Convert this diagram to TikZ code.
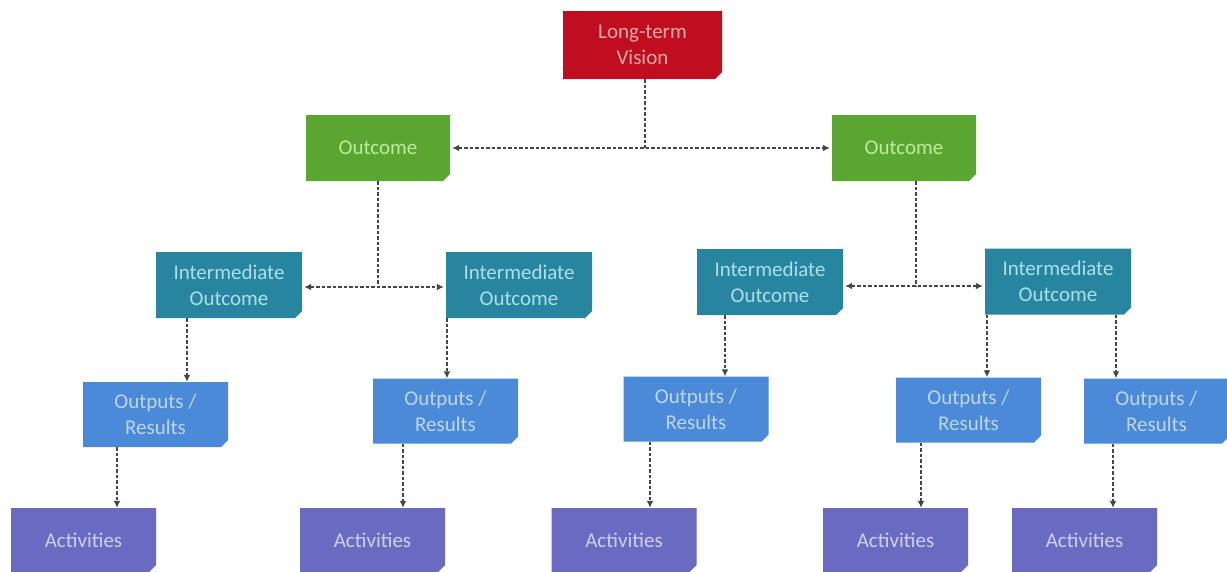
\documentclass[tikz,border=0pt]{standalone}
\usepackage{fontspec}
\setmainfont{Carlito}
\usetikzlibrary{arrows.meta}

\definecolor{visionfill}{RGB}{192,14,32}
\definecolor{visiontext}{RGB}{246,170,170}
\definecolor{outcomefill}{RGB}{90,166,48}
\definecolor{outcometext}{RGB}{190,236,160}
\definecolor{interfill}{RGB}{40,133,160}
\definecolor{intertext}{RGB}{170,224,236}
\definecolor{outputfill}{RGB}{74,138,216}
\definecolor{outputtext}{RGB}{190,214,244}
\definecolor{actfill}{RGB}{106,106,194}
\definecolor{acttext}{RGB}{205,207,244}
\definecolor{linkgray}{RGB}{70,70,70}

\tikzset{
  % box with a clipped lower right corner
  cutbox/.style 2 args={
    rectangle, inner sep=0pt, minimum width=145pt, minimum height=66pt,
    text=#2, align=center,
    font=\fontsize{21}{26}\selectfont,
    path picture={
      \fill[#1] (path picture bounding box.north west)
        -- (path picture bounding box.north east)
        -- ([yshift=7pt]path picture bounding box.south east)
        -- ([xshift=-7pt]path picture bounding box.south east)
        -- (path picture bounding box.south west) -- cycle;
    }
  },
  visionbox/.style={cutbox={visionfill}{visiontext}, minimum width=159pt, minimum height=68pt},
  outcomebox/.style={cutbox={outcomefill}{outcometext}, minimum width=144pt},
  interbox/.style={cutbox={interfill}{intertext}, minimum width=146pt},
  outputbox/.style={cutbox={outputfill}{outputtext}, minimum height=65pt},
  actbox/.style={cutbox={actfill}{acttext}, minimum height=64pt},
  link/.style={draw=linkgray, line width=1.8pt, dash pattern=on 3.5pt off 2pt},
  tip/.style={link, -{Latex[length=7pt,width=7pt]}},
  twotip/.style={link, {Latex[length=7pt,width=7pt]}-{Latex[length=7pt,width=7pt]}}
}

\begin{document}
\begin{tikzpicture}[x=1pt, y=-1pt]
\useasboundingbox (0,0) rectangle (1227,571);

% top level
\node[visionbox] (v) at (642.5,45) {Long-term\\Vision};

% outcomes
\node[outcomebox] (oL) at (378,148) {Outcome};
\node[outcomebox] (oR) at (904,148) {Outcome};

% intermediate outcomes
\node[interbox] (i1) at (229,285) {Intermediate\\Outcome};
\node[interbox] (i2) at (519,285) {Intermediate\\Outcome};
\node[interbox] (i3) at (770,282) {Intermediate\\Outcome};
\node[interbox] (i4) at (1058,281.5) {Intermediate\\Outcome};

% outputs
\node[outputbox] (r1) at (155.5,414.5) {Outputs /\\Results};
\node[outputbox] (r2) at (445.5,411) {Outputs /\\Results};
\node[outputbox] (r3) at (696,409) {Outputs /\\Results};
\node[outputbox] (r4) at (968.5,410) {Outputs /\\Results};
\node[outputbox] (r5) at (1156.5,411) {Outputs /\\Results};

% activities
\node[actbox] (a1) at (83.5,540) {\raisebox{-3pt}{Activities}};
\node[actbox] (a2) at (372.5,540) {\raisebox{-3pt}{Activities}};
\node[actbox] (a3) at (624,540) {\raisebox{-3pt}{Activities}};
\node[actbox] (a4) at (895.5,540) {\raisebox{-2pt}{Activities}};
\node[actbox] (a5) at (1084.5,540) {\raisebox{-2pt}{Activities}};

% vision to outcomes
\draw[link] ([xshift=2.5pt]v.south) -- ([xshift=2.5pt]v.south |- oL.east);
\draw[twotip, shorten <=2pt, shorten >=2pt] (oL.east) -- (oR.west);

% outcomes to intermediate outcomes
\draw[link] (oL.south) -- ([yshift=-2pt]oL.south |- i1.east);
\draw[twotip, shorten <=2pt, shorten >=2pt] ([yshift=-2pt]i1.east) -- ([yshift=-2pt]i2.west);
\draw[link] ([xshift=12pt]oR.south) -- ([xshift=12pt,yshift=-4pt]oR.south |- i3.east);
\draw[twotip, shorten <=2pt, shorten >=2pt] ([yshift=-4pt]i3.east) -- ([yshift=-4.5pt]i4.west);

% intermediate outcomes to outputs
\draw[tip] ([xshift=-42pt]i1.south) -- ([xshift=-42pt]i1.south |- r1.north);
\draw[tip] ([xshift=-72pt]i2.south) -- ([xshift=-72pt]i2.south |- r2.north);
\draw[tip] ([xshift=-45pt]i3.south) -- ([xshift=-45pt]i3.south |- r3.north);
\draw[tip] ([xshift=-71pt]i4.south) -- ([xshift=-71pt]i4.south |- r4.north);
\draw[tip] ([xshift=58pt]i4.south) -- ([xshift=58pt]i4.south |- r5.north);

% outputs to activities
\draw[tip] ([xshift=-38.5pt]r1.south) -- ([xshift=-38.5pt]r1.south |- a1.north);
\draw[tip] ([xshift=-42.5pt]r2.south) -- ([xshift=-42.5pt]r2.south |- a2.north);
\draw[tip] ([xshift=-46pt]r3.south) -- ([xshift=-46pt]r3.south |- a3.north);
\draw[tip] ([xshift=-47.5pt]r4.south) -- ([xshift=-47.5pt]r4.south |- a4.north);
\draw[tip] ([xshift=-43.5pt]r5.south) -- ([xshift=-43.5pt]r5.south |- a5.north);
\end{tikzpicture}
\end{document}
